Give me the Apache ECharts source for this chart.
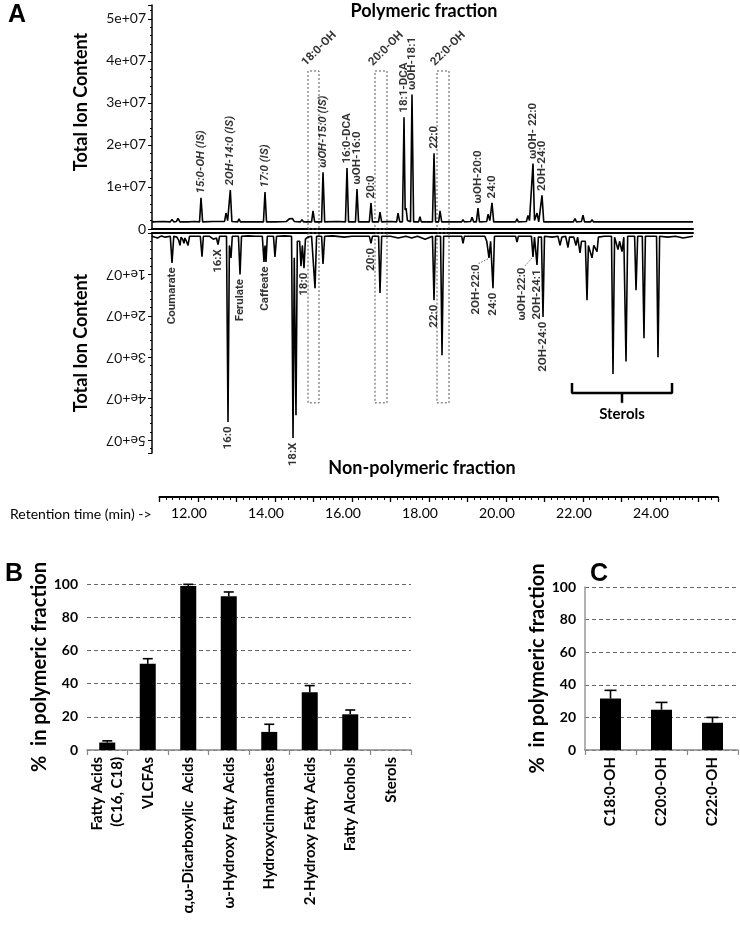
<!DOCTYPE html>
<html>
<head>
<meta charset="utf-8">
<script src="https://cdn.jsdelivr.net/npm/echarts@6/dist/echarts.min.js"></script>
<style>html,body{margin:0;padding:0;background:#fff}#c{width:740px;height:926px}</style>
</head>
<body>
<div id="c"></div>
<script>
// ---------- Panel A data (time in min, intensity in units of 1e7) ----------
const topTrace = [
[10.80,0.17],[11.10,0.18],[11.28,0.17],[11.325,0.23],[11.37,0.17],[11.44,0.18],[11.481,0.25],[11.53,0.17],[11.75,0.17],[11.90,0.18],
[12.04,0.17],[12.078,0.74],[12.12,0.17],[12.40,0.18],[12.69,0.18],[12.727,0.38],[12.77,0.20],[12.839,0.93],[12.88,0.18],[13.03,0.17],
[13.065,0.24],[13.10,0.17],[13.40,0.17],[13.70,0.17],[13.740,0.88],[13.78,0.17],[13.94,0.17],[13.974,0.21],[14.01,0.17],[14.30,0.18],
[14.37,0.24],[14.416,0.28],[14.45,0.25],[14.50,0.18],[14.66,0.17],[14.701,0.22],[14.74,0.17],[14.95,0.17],[14.987,0.43],[15.03,0.17],
[15.21,0.17],[15.247,1.35],[15.29,0.17],[15.60,0.18],[15.83,0.17],[15.870,1.45],[15.91,0.17],[16.09,0.17],[16.130,0.95],[16.17,0.17],
[16.45,0.17],[16.494,0.62],[16.53,0.17],[16.69,0.17],[16.727,0.40],[16.77,0.17],[17.00,0.18],[17.16,0.17],[17.195,0.38],[17.24,0.17],
[17.31,0.17],[17.351,2.66],[17.38,0.45],[17.403,0.50],[17.44,0.20],[17.52,0.17],[17.558,3.20],[17.60,0.17],[17.73,0.17],[17.766,0.29],
[17.80,0.17],[18.09,0.17],[18.130,1.80],[18.17,0.17],[18.25,0.17],[18.286,0.43],[18.33,0.17],[18.60,0.17],[18.85,0.17],[18.883,0.22],
[18.92,0.17],[19.08,0.18],[19.117,0.28],[19.16,0.17],[19.23,0.17],[19.273,0.50],[19.31,0.17],[19.50,0.18],[19.532,0.35],[19.58,0.20],
[19.636,0.62],[19.68,0.17],[20.00,0.17],[20.25,0.17],[20.286,0.24],[20.32,0.17],[20.53,0.18],[20.571,0.32],[20.61,0.20],[20.66,0.20],
[20.701,1.56],[20.74,0.20],[20.805,0.38],[20.85,0.17],[20.895,0.17],[20.935,0.80],[20.98,0.17],[21.30,0.17],[21.75,0.17],[21.792,0.25],
[21.83,0.17],[21.96,0.18],[22.000,0.33],[22.04,0.17],[22.20,0.17],[22.234,0.22],[22.27,0.17],[22.60,0.17],[23.20,0.17],[24.00,0.17],[24.857,0.17]
];
const botTrace = [
[10.80,0.08],[10.95,0.12],[11.05,0.07],[11.15,0.10],[11.28,0.08],[11.325,0.72],[11.37,0.08],[11.45,0.10],[11.50,0.18],[11.532,0.30],
[11.56,0.10],[11.60,0.15],[11.636,0.25],[11.66,0.12],[11.70,0.20],[11.740,0.30],[11.78,0.08],[11.90,0.08],[12.06,0.08],[12.104,0.57],
[12.14,0.08],[12.30,0.08],[12.40,0.15],[12.48,0.12],[12.519,0.28],[12.56,0.08],[12.74,0.08],[12.779,4.56],[12.815,0.30],[12.857,0.60],
[12.89,0.08],[13.05,0.08],[13.091,1.00],[13.13,0.08],[13.30,0.07],[13.50,0.08],[13.67,0.08],[13.714,0.70],[13.74,0.30],[13.766,0.70],
[13.80,0.08],[13.96,0.08],[13.999,0.58],[14.04,0.08],[14.25,0.07],[14.43,0.08],[14.468,4.95],[14.50,0.60],[14.545,4.40],[14.58,0.20],
[14.64,0.20],[14.675,0.80],[14.71,0.30],[14.753,0.85],[14.79,0.15],[14.85,0.10],[14.95,0.08],[15.00,0.10],[15.039,1.33],[15.08,0.08],
[15.21,0.08],[15.247,0.75],[15.29,0.08],[15.50,0.07],[15.80,0.10],[16.00,0.08],[16.20,0.08],[16.45,0.08],[16.494,0.25],[16.53,0.08],
[16.69,0.08],[16.727,1.45],[16.77,0.08],[17.00,0.08],[17.20,0.12],[17.40,0.08],[17.55,0.12],[17.70,0.08],[17.90,0.15],[18.09,0.08],
[18.130,1.62],[18.17,0.08],[18.30,0.08],[18.338,2.95],[18.38,0.08],[18.60,0.08],[18.85,0.08],[18.883,0.25],[18.92,0.08],[19.20,0.08],
[19.45,0.08],[19.50,0.20],[19.558,0.60],[19.60,0.20],[19.662,1.33],[19.70,0.08],[20.00,0.08],[20.25,0.08],[20.286,0.22],[20.32,0.08],
[20.55,0.08],[20.66,0.08],[20.701,0.58],[20.74,0.10],[20.805,0.77],[20.84,0.10],[20.92,0.10],[20.961,2.03],[21.00,0.08],[21.20,0.10],
[21.35,0.08],[21.403,0.30],[21.45,0.10],[21.55,0.08],[21.610,0.35],[21.65,0.10],[21.76,0.10],[21.818,0.30],[21.86,0.10],[21.922,0.48],
[21.96,0.20],[22.06,0.20],[22.104,1.62],[22.14,0.30],[22.18,0.30],[22.234,0.60],[22.28,0.30],[22.364,0.45],[22.40,0.10],[22.55,0.08],
[22.74,0.08],[22.779,3.40],[22.82,0.10],[22.87,0.10],[22.909,0.40],[22.95,0.20],[23.013,0.45],[23.06,0.10],[23.117,3.10],[23.16,0.08],
[23.34,0.08],[23.377,1.38],[23.42,0.08],[23.54,0.08],[23.584,2.54],[23.62,0.08],[23.91,0.08],[23.948,3.00],[23.99,0.08],[24.20,0.10],
[24.40,0.08],[24.60,0.12],[24.857,0.08]
];
const topPeakNames = ['15:0-OH (IS)','2OH-14:0 (IS)','17:0 (IS)','ωOH-15:0 (IS)','16:0-DCA','ωOH-16:0','20:0','18:1-DCA','ωOH-18:1','22:0','ωOH-20:0','24:0','ωOH- 22:0','2OH-24:0'];
const topPeakTimes = [12.078,12.839,13.740,15.247,15.870,16.130,16.494,17.351,17.558,18.130,19.273,19.636,20.701,20.935];
const topPeakHeights = [0.74,0.93,0.88,1.35,1.45,0.95,0.62,2.66,3.20,1.80,0.50,0.62,1.56,0.80];
const botPeakNames = ['Coumarate','16:X','16:0','Ferulate','Caffeate','18:X','18:0','20:0','22:0','2OH-22:0','24:0','ωOH-22:0','2OH-24:1','2OH-24:0'];
const botPeakTimes = [11.325,12.519,12.779,13.091,13.740,14.468,14.753,16.494,18.130,19.558,19.662,20.701,20.805,20.961];
const botPeakDepths = [0.72,0.28,4.56,1.00,0.70,4.95,0.85,0.25,1.62,0.60,1.33,0.58,0.77,2.03];
const boxNames = ['18:0-OH','20:0-OH','22:0-OH'];
const boxStart = [14.857,16.597,18.208];
const boxEnd = [15.143,16.909,18.519];
const boxTopHeight = 3.76;
const boxBottomDepth = 4.10;
const sterolBracket = [[21.714,3.62],[21.714,3.86],[24.312,3.86],[24.312,3.62]];
const sterolStem = [[23.013,3.86],[23.013,4.10]];
const chromTicks = [0,1,2,3,4,5];
const timeLabels = [12,14,16,18,20,22,24];

// ---------- Panel B / C data ----------
const bCats = ['Fatty Acids\n(C16, C18)','VLCFAs','α,ω-Dicarboxylic  Acids','ω-Hydroxy Fatty Acids','Hydroxycinnamates','2-Hydroxy Fatty Acids','Fatty Alcohols','Sterols'];
const bValues = [4.5,51.9,98.8,92.6,10.9,34.8,21.5,0];
const bErrors = [1.0,3.1,1.0,2.6,4.6,4.0,2.6,0];
const cCats = ['C18:0-OH','C20:0-OH','C22:0-OH'];
const cValues = [31.6,24.7,16.7];
const cErrors = [5.0,4.5,3.3];

const FONT = 'Lato, "Open Sans", sans-serif';
const LBL = 'Roboto, "Liberation Sans", sans-serif';

const chart = echarts.init(document.getElementById('c'), null, {renderer:'canvas'});

function errRender(cap){
  return function(params, api){
    const e = api.value(2);
    if (!e) return;
    const p0 = api.coord([api.value(0), api.value(1)]);
    const p1 = api.coord([api.value(0), api.value(1) + e]);
    const st = {stroke:'#000', lineWidth:1.6};
    return {type:'group', children:[
      {type:'line', shape:{x1:p0[0],y1:p0[1],x2:p1[0],y2:p1[1]}, style:st},
      {type:'line', shape:{x1:p1[0]-cap/2,y1:p1[1],x2:p1[0]+cap/2,y2:p1[1]}, style:st}
    ]};
  };
}
const fmtE = v => (chromTicks.indexOf(v) < 0) ? '' : (v === 0 ? '0' : v + 'e+07');
// pixel offsets of the two labels that sit beside their dips (with a dotted leader)
const leaderShift = {9:[-12,7], 11:[-10,11]};
const leaderIdx = Object.keys(leaderShift).map(Number);

const option = {
  animation:false,
  backgroundColor:'#fff',
  textStyle:{fontFamily:FONT},
  title:[
    {text:'A', left:8, top:3, padding:0, textStyle:{fontFamily:'Arial', fontSize:25, fontWeight:'bold', color:'#000'}},
    {text:'B', left:5, top:562, padding:0, textStyle:{fontFamily:'Arial', fontSize:25, fontWeight:'bold', color:'#000'}},
    {text:'C', left:590, top:562, padding:0, textStyle:{fontFamily:'Arial', fontSize:25, fontWeight:'bold', color:'#000'}},
    {text:'Polymeric fraction', left:424, textAlign:'center', top:2, padding:0, textStyle:{fontFamily:FONT, fontSize:18, fontWeight:'bold', color:'#000'}},
    {text:'Non-polymeric fraction', left:422, textAlign:'center', top:459, padding:0, textStyle:{fontFamily:FONT, fontSize:18, fontWeight:'bold', color:'#000'}},
    {text:'Retention time (min) ->', left:10, top:507, padding:0, textStyle:{fontFamily:FONT, fontSize:14, fontWeight:'normal', color:'#000'}}
  ],
  grid:[
    {left:152, top:5, width:541, height:224, outerBoundsMode:'none', containLabel:false},
    {left:152, top:233, width:541, height:220, outerBoundsMode:'none', containLabel:false},
    {left:159.5, top:496, width:558.25, height:1, outerBoundsMode:'none', containLabel:false},
    {left:87, top:584, width:324, height:166, outerBoundsMode:'none', containLabel:false},
    {left:585, top:587, width:153, height:163, outerBoundsMode:'none', containLabel:false}
  ],
  xAxis:[
    {gridIndex:0, type:'value', min:10.805, max:24.857, axisLine:{show:true, onZero:false, lineStyle:{color:'#000', width:2}}, axisTick:{show:false}, axisLabel:{show:false}, splitLine:{show:false}},
    {gridIndex:1, type:'value', position:'top', min:10.805, max:24.857, axisLine:{show:true, onZero:false, lineStyle:{color:'#000', width:2}}, axisTick:{show:false}, axisLabel:{show:false}, splitLine:{show:false}},
    {gridIndex:2, type:'value', min:11, max:25.5, interval:1,
      axisLine:{show:true, onZero:false, lineStyle:{color:'#000', width:2}},
      axisTick:{show:true, length:5, lineStyle:{color:'#000', width:1.3}},
      minorTick:{show:true, splitNumber:6, length:3, lineStyle:{color:'#000', width:1}},
      splitLine:{show:false},
      axisLabel:{formatter: v => timeLabels.indexOf(v) < 0 ? '' : v.toFixed(2), fontFamily:FONT, fontSize:14, color:'#000', margin:9, padding:[0,18,0,0], showMaxLabel:false}},
    {gridIndex:3, type:'category', data:bCats,
      axisLine:{show:true, lineStyle:{color:'#888', width:1.5}},
      axisTick:{show:true, length:5, lineStyle:{color:'#888', width:1.2}},
      axisLabel:{interval:0, rotate:90, fontFamily:FONT, fontSize:15, fontWeight:'bold', color:'#000', margin:7, lineHeight:20}},
    {gridIndex:4, type:'category', data:cCats,
      axisLine:{show:true, lineStyle:{color:'#888', width:1.5}},
      axisTick:{show:true, length:5, lineStyle:{color:'#888', width:1.2}},
      axisLabel:{interval:0, rotate:90, fontFamily:FONT, fontSize:15, fontWeight:'bold', color:'#000', margin:7}}
  ],
  yAxis:[
    {gridIndex:0, type:'value', min:0, max:5.33, interval:1,
      axisLine:{show:true, onZero:false, lineStyle:{color:'#000', width:1.5}},
      axisTick:{show:true, length:4, lineStyle:{color:'#000'}},
      minorTick:{show:true, splitNumber:5, length:2, lineStyle:{color:'#000'}},
      splitLine:{show:false},
      axisLabel:{formatter:fmtE, fontFamily:FONT, fontSize:14, color:'#111', margin:6, showMaxLabel:false},
      name:'Total Ion Content', nameLocation:'middle', nameGap:62,
      nameTextStyle:{fontFamily:FONT, fontSize:18, fontWeight:'bold', color:'#000', padding:[0,0,0,30]}},
    {gridIndex:1, type:'value', inverse:true, min:0, max:5.31, interval:1,
      axisLine:{show:true, onZero:false, lineStyle:{color:'#000', width:1.5}},
      axisTick:{show:true, length:4, lineStyle:{color:'#000'}},
      minorTick:{show:true, splitNumber:5, length:2, lineStyle:{color:'#000'}},
      splitLine:{show:false},
      axisLabel:{formatter:fmtE, rotate:180, fontFamily:FONT, fontSize:14, color:'#111', margin:6, showMinLabel:false, showMaxLabel:false},
      name:'Total Ion Content', nameLocation:'middle', nameGap:62,
      nameTextStyle:{fontFamily:FONT, fontSize:18, fontWeight:'bold', color:'#000'}},
    {gridIndex:2, type:'value', show:false},
    {gridIndex:3, type:'value', min:0, max:100, interval:20,
      axisLine:{show:false}, axisTick:{show:false},
      splitLine:{show:true, lineStyle:{type:[4,3], color:'#666', width:1}},
      axisLabel:{fontFamily:FONT, fontSize:14, fontWeight:'bold', color:'#000', margin:9},
      name:'%  in polymeric fraction', nameLocation:'middle', nameGap:37,
      nameTextStyle:{fontFamily:FONT, fontSize:20, fontWeight:'bold', color:'#000'}},
    {gridIndex:4, type:'value', min:0, max:100, interval:20,
      axisLine:{show:true, lineStyle:{color:'#999', width:1.5}}, axisTick:{show:false},
      splitLine:{show:true, lineStyle:{type:[4,3], color:'#666', width:1}},
      axisLabel:{fontFamily:FONT, fontSize:14, fontWeight:'bold', color:'#000', margin:9},
      name:'%  in polymeric fraction', nameLocation:'middle', nameGap:37,
      nameTextStyle:{fontFamily:FONT, fontSize:20, fontWeight:'bold', color:'#000'}}
  ],
  series:[
    {type:'line', xAxisIndex:0, yAxisIndex:0, data:topTrace, showSymbol:false, symbol:'none', lineStyle:{color:'#000', width:1.6}, z:3,
      markArea:{silent:true, itemStyle:{color:'rgba(0,0,0,0)', borderColor:'#555', borderWidth:1, borderType:[2,2]},
        data: boxStart.map((s,i)=>[{xAxis:s, yAxis:0},{xAxis:boxEnd[i], yAxis:boxTopHeight}])}},
    {type:'line', xAxisIndex:1, yAxisIndex:1, data:botTrace, showSymbol:false, symbol:'none', lineStyle:{color:'#000', width:1.6}, z:3,
      markArea:{silent:true, itemStyle:{color:'rgba(0,0,0,0)', borderColor:'#555', borderWidth:1, borderType:[2,2]},
        data: boxStart.map((s,i)=>[{xAxis:s, yAxis:0},{xAxis:boxEnd[i], yAxis:boxBottomDepth}])}},
    {type:'scatter', xAxisIndex:0, yAxisIndex:0, symbolSize:1, itemStyle:{color:'rgba(0,0,0,0)'}, silent:true, z:5,
      data: topPeakNames.map((n,i)=>({name:n, value:[topPeakTimes[i], topPeakHeights[i]],
        label:{fontStyle: n.indexOf('(IS)')>=0 ? 'italic' : 'normal'}})),
      label:{show:true, formatter:'{b}', position:'top', distance:4, rotate:90, align:'left', verticalAlign:'middle',
        fontFamily:LBL, fontSize:11.5, fontWeight:'bold', color:'#000'}},
    {type:'scatter', xAxisIndex:1, yAxisIndex:1, symbolSize:1, itemStyle:{color:'rgba(0,0,0,0)'}, silent:true, z:5,
      data: botPeakNames.map((n,i)=>({name:n, value:[botPeakTimes[i], botPeakDepths[i]],
        label: leaderShift[i] ? {position:[leaderShift[i][0], leaderShift[i][1]]} : {}})),
      label:{show:true, formatter:'{b}', position:'bottom', distance:4, rotate:90, align:'right', verticalAlign:'middle',
        fontFamily:LBL, fontSize:11.5, fontWeight:'bold', color:'#000'}},
    {type:'custom', xAxisIndex:1, yAxisIndex:1, silent:true, z:5,
      data: leaderIdx.map(i=>[botPeakTimes[i], botPeakDepths[i], i]),
      renderItem:(p, api)=>{
        const c = api.coord([api.value(0), api.value(1)]);
        const s = leaderShift[api.value(2)];
        return {type:'line', shape:{x1:c[0]-1, y1:c[1]+1, x2:c[0]+s[0]+1, y2:c[1]+s[1]-1}, style:{stroke:'#444', lineWidth:0.8, lineDash:[1.5,1.5]}};
      }},
    {type:'scatter', xAxisIndex:0, yAxisIndex:0, symbolSize:1, itemStyle:{color:'rgba(0,0,0,0)'}, silent:true, z:5,
      data: boxNames.map((n,i)=>({name:n, value:[boxStart[i], boxTopHeight]})),
      label:{show:true, formatter:'{b}', position:'top', distance:2, rotate:45, align:'left', verticalAlign:'bottom',
        fontFamily:LBL, fontSize:11.5, fontWeight:'bold', color:'#000'}},
    {type:'line', xAxisIndex:1, yAxisIndex:1, showSymbol:false, symbol:'none', silent:true, z:4,
      data: sterolBracket, lineStyle:{color:'#000', width:2.5}},
    {type:'line', xAxisIndex:1, yAxisIndex:1, symbol:'circle', symbolSize:1, showSymbol:true, silent:true, z:4,
      itemStyle:{color:'#000'},
      data: sterolStem.map((p,i)=>({value:p, label:{show:i===1, formatter:'Sterols', position:'bottom', distance:3,
        fontFamily:FONT, fontSize:15, fontWeight:'bold', color:'#000'}})),
      lineStyle:{color:'#000', width:2.5}},
    {type:'bar', xAxisIndex:3, yAxisIndex:3, data:bValues, barWidth:16, itemStyle:{color:'#000'}},
    {type:'custom', xAxisIndex:3, yAxisIndex:3, renderItem:errRender(10), z:5,
      data: bValues.map((v,i)=>[i, v, bErrors[i]])},
    {type:'bar', xAxisIndex:4, yAxisIndex:4, data:cValues, barWidth:21, itemStyle:{color:'#000'}},
    {type:'custom', xAxisIndex:4, yAxisIndex:4, renderItem:errRender(12), z:5,
      data: cValues.map((v,i)=>[i, v, cErrors[i]])}
  ]
};
chart.setOption(option);
</script>
</body>
</html>
